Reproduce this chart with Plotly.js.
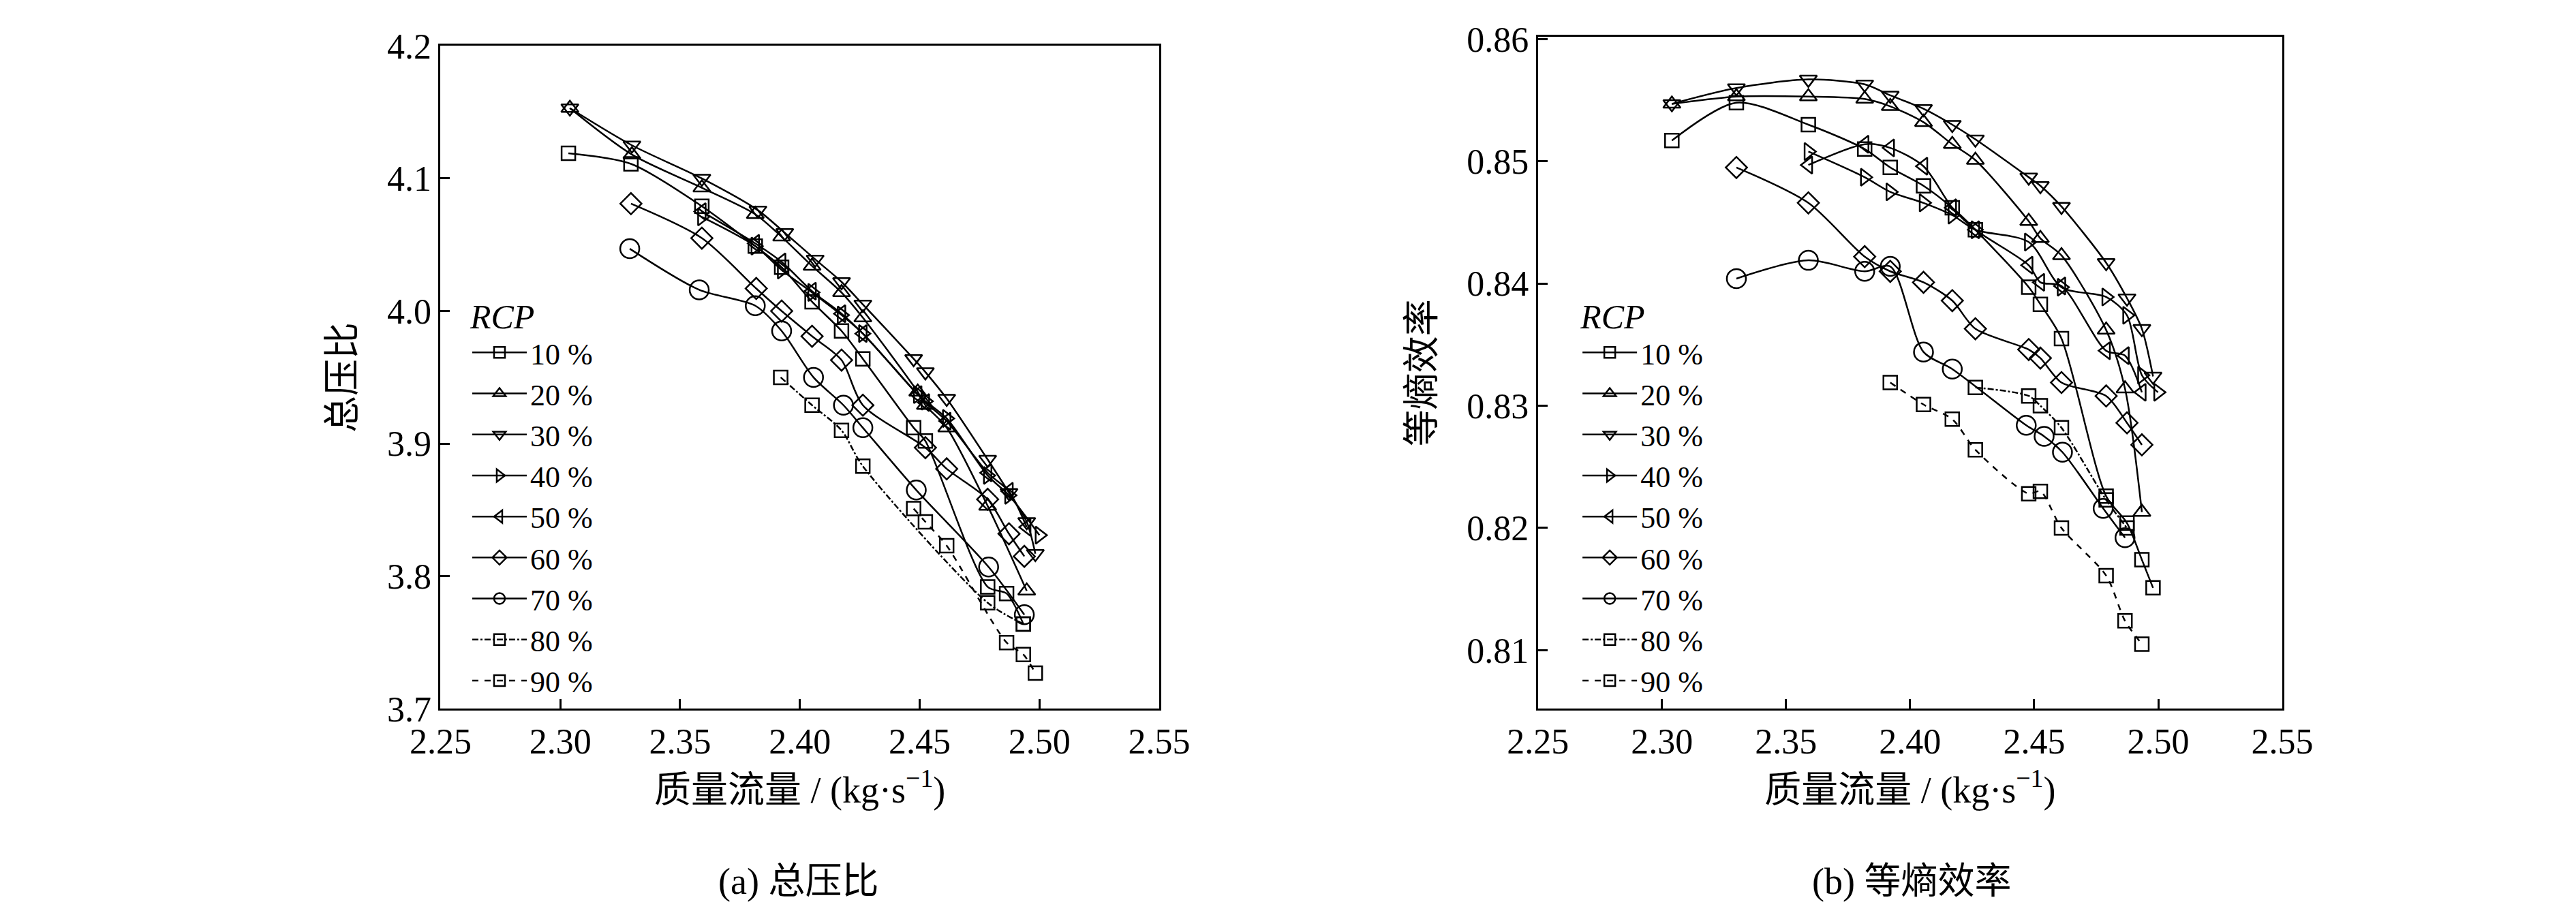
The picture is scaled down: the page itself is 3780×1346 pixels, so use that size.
<!DOCTYPE html>
<html>
<head>
<meta charset="utf-8">
<script src="https://cdn.plot.ly/plotly-3.0.1.min.js"></script>
<style>html,body{margin:0;padding:0;background:#fff}#chart{width:3780px;height:1346px}</style>
</head>
<body>
<div id="chart"></div>
<script>
// RCP levels
var rcpNames = ['10 %', '20 %', '30 %', '40 %', '50 %', '60 %', '70 %', '80 %', '90 %'];

// (a) total pressure ratio
var prX10 = [2.3034, 2.3295, 2.3591, 2.3814, 2.3924, 2.4051, 2.4174, 2.4263, 2.4475, 2.4524, 2.4784, 2.4863, 2.4933];
var prY10 = [4.119, 4.111, 4.079, 4.049, 4.033, 4.007, 3.985, 3.964, 3.912, 3.902, 3.792, 3.787, 3.764];
var prX20 = [2.3040, 2.3299, 2.3591, 2.3814, 2.3924, 2.4051, 2.4174, 2.4263, 2.4492, 2.4524, 2.4613, 2.4784, 2.4947];
var prY20 = [4.153, 4.118, 4.093, 4.073, 4.056, 4.034, 4.014, 3.995, 3.939, 3.929, 3.912, 3.853, 3.789];
var prX30 = [2.3040, 2.3299, 2.3591, 2.3825, 2.3937, 2.4064, 2.4174, 2.4263, 2.4475, 2.4524, 2.4613, 2.4784, 2.4873, 2.4947, 2.4983];
var prY30 = [4.153, 4.125, 4.100, 4.076, 4.059, 4.039, 4.022, 4.005, 3.964, 3.954, 3.934, 3.888, 3.863, 3.841, 3.817];
var prX40 = [2.3591, 2.3814, 2.3924, 2.4051, 2.4174, 2.4263, 2.4492, 2.4524, 2.4613, 2.4784, 2.4873, 2.5000];
var prY40 = [4.071, 4.049, 4.031, 4.014, 3.997, 3.983, 3.937, 3.932, 3.919, 3.876, 3.861, 3.831];
var prX50 = [2.3591, 2.3814, 2.3924, 2.4051, 2.4174, 2.4263, 2.4492, 2.4524, 2.4613, 2.4784, 2.4873, 2.4947];
var prY50 = [4.075, 4.051, 4.037, 4.015, 3.998, 3.983, 3.937, 3.931, 3.917, 3.878, 3.864, 3.837];
var prX60 = [2.3295, 2.3591, 2.3818, 2.3924, 2.4051, 2.4174, 2.4263, 2.4524, 2.4613, 2.4784, 2.4873, 2.4937];
var prY60 = [4.081, 4.055, 4.017, 4.000, 3.981, 3.963, 3.929, 3.897, 3.881, 3.858, 3.832, 3.815];
var prX70 = [2.3290, 2.3580, 2.3814, 2.3924, 2.4057, 2.4182, 2.4263, 2.4486, 2.4788, 2.4937];
var prY70 = [4.047, 4.016, 4.004, 3.985, 3.950, 3.929, 3.912, 3.865, 3.807, 3.771];
var prX80 = [2.3920, 2.4051, 2.4174, 2.4263, 2.4784, 2.4933];
var prY80 = [3.950, 3.929, 3.910, 3.883, 3.780, 3.764];
var prX90 = [2.4475, 2.4524, 2.4613, 2.4863, 2.4933, 2.4983];
var prY90 = [3.851, 3.841, 3.823, 3.750, 3.741, 3.727];

// (b) isentropic efficiency
var efX10 = [2.304, 2.330, 2.359, 2.3817, 2.392, 2.4054, 2.417, 2.4263, 2.4478, 2.4525, 2.461, 2.479, 2.4874, 2.4934, 2.4979];
var efY10 = [0.8517, 0.8548, 0.8530, 0.8510, 0.8495, 0.8480, 0.8462, 0.8444, 0.8397, 0.8383, 0.8355, 0.8226, 0.8204, 0.8174, 0.8151];
var efX20 = [2.304, 2.330, 2.359, 2.3817, 2.392, 2.4054, 2.417, 2.4263, 2.4478, 2.4525, 2.461, 2.479, 2.4866, 2.4934];
var efY20 = [0.8547, 0.8553, 0.8553, 0.8551, 0.8545, 0.8532, 0.8514, 0.8501, 0.8451, 0.8437, 0.8423, 0.8362, 0.8314, 0.8213];
var efX30 = [2.304, 2.330, 2.359, 2.3817, 2.392, 2.4054, 2.417, 2.4263, 2.4478, 2.4525, 2.461, 2.479, 2.4874, 2.4934, 2.4979];
var efY30 = [0.8547, 0.8560, 0.8567, 0.8563, 0.8554, 0.8543, 0.8530, 0.8518, 0.8487, 0.8480, 0.8463, 0.8417, 0.8388, 0.8363, 0.8324];
var efX40 = [2.359, 2.3817, 2.392, 2.4054, 2.417, 2.4263, 2.4478, 2.461, 2.479, 2.4874, 2.4934, 2.4999];
var efY40 = [0.8508, 0.8487, 0.8475, 0.8466, 0.8456, 0.8444, 0.8434, 0.8397, 0.8389, 0.8374, 0.8325, 0.8311];
var efX50 = [2.359, 2.3817, 2.392, 2.4054, 2.417, 2.4263, 2.4478, 2.4525, 2.461, 2.479, 2.4866, 2.4934];
var efY50 = [0.8497, 0.8514, 0.8511, 0.8496, 0.8462, 0.8444, 0.8415, 0.8401, 0.8398, 0.8345, 0.8341, 0.8311];
var efX60 = [2.330, 2.359, 2.3817, 2.392, 2.4054, 2.417, 2.4263, 2.4478, 2.4525, 2.461, 2.479, 2.4874, 2.4934];
var efY60 = [0.8495, 0.8466, 0.8422, 0.8410, 0.8401, 0.8386, 0.8363, 0.8346, 0.8339, 0.8319, 0.8308, 0.8286, 0.8268];
var efX70 = [2.330, 2.359, 2.3817, 2.392, 2.4054, 2.417, 2.4468, 2.4540, 2.4614, 2.4778, 2.4866];
var efY70 = [0.8404, 0.8419, 0.8410, 0.8414, 0.8344, 0.8330, 0.8284, 0.8275, 0.8262, 0.8216, 0.8192];
var efX80 = [2.4263, 2.4478, 2.4525, 2.461, 2.479, 2.4874];
var efY80 = [0.8315, 0.8308, 0.8300, 0.8282, 0.8223, 0.8200];
var efX90 = [2.392, 2.4054, 2.417, 2.4263, 2.4478, 2.4525, 2.461, 2.479, 2.4866, 2.4934];
var efY90 = [0.8319, 0.8301, 0.8289, 0.8264, 0.8228, 0.8230, 0.8200, 0.8161, 0.8124, 0.8105];

var symbols = ['square-open', 'triangle-up-open', 'triangle-down-open', 'triangle-right-open',
  'triangle-left-open', 'diamond-open', 'circle-open', 'square-open', 'square-open'];
var sizes = [20, 22, 22, 22, 22, 24, 28, 20, 20];
var dashes = ['solid', 'solid', 'solid', 'solid', 'solid', 'solid', 'solid', 'dashdot', 'dash'];

var prSets = [[prX10, prY10], [prX20, prY20], [prX30, prY30], [prX40, prY40], [prX50, prY50],
  [prX60, prY60], [prX70, prY70], [prX80, prY80], [prX90, prY90]];
var efSets = [[efX10, efY10], [efX20, efY20], [efX30, efY30], [efX40, efY40], [efX50, efY50],
  [efX60, efY60], [efX70, efY70], [efX80, efY80], [efX90, efY90]];

var traces = [];
function addTraces(sets, xa, ya, legend) {
  sets.forEach(function (s, i) {
    traces.push({
      type: 'scatter', mode: 'lines+markers', x: s[0], y: s[1],
      xaxis: xa, yaxis: ya, legend: legend, name: rcpNames[i],
      line: { color: '#000', width: 2.5, dash: dashes[i], shape: 'spline', smoothing: 0.8 },
      marker: { symbol: symbols[i], size: sizes[i], color: '#000', line: { width: 2.5, color: '#000' } }
    });
  });
}
addTraces(prSets, 'x', 'y', 'legend');
addTraces(efSets, 'x2', 'y2', 'legend2');

var tickFont = { family: '"Liberation Serif", "Times New Roman", serif', size: 52, color: '#000' };
var titleFont = { family: '"Liberation Serif", "Noto Sans CJK SC", serif', size: 54, color: '#000' };

function axis(extra) {
  var a = {
    showline: true, mirror: true, linecolor: '#000', linewidth: 3,
    ticks: 'inside', ticklen: 14, tickwidth: 3, tickcolor: '#000',
    showgrid: false, zeroline: false, tickfont: tickFont
  };
  for (var k in extra) a[k] = extra[k];
  return a;
}

var legendCommon = {
  bgcolor: 'rgba(0,0,0,0)', borderwidth: 0,
  font: { family: '"Liberation Serif", serif', size: 44, color: '#000' },
  title: { text: '<i>RCP</i>', font: { family: '"Liberation Serif", serif', size: 50, color: '#000' } },
  tracegroupgap: 0, itemwidth: 80, xanchor: 'left', yanchor: 'top'
};
var leg1 = Object.assign({}, legendCommon, { x: 0.182, y: 0.69 });
var leg2 = Object.assign({}, legendCommon, { x: 0.613, y: 0.69 });

var layout = {
  width: 3780, height: 1346,
  paper_bgcolor: '#fff', plot_bgcolor: '#fff',
  margin: { l: 0, r: 0, t: 0, b: 0 },
  showlegend: true,
  legend: leg1, legend2: leg2,
  xaxis: axis({ domain: [0.171, 0.450], range: [2.25, 2.55], dtick: 0.05, tickformat: '.2f', anchor: 'y',
    title: { text: '质量流量 / (kg·s<sup>−1</sup>)', font: titleFont, standoff: 25 } }),
  yaxis: axis({ domain: [0.227, 0.95], range: [3.7, 4.2], dtick: 0.1, tickformat: '.1f', anchor: 'x',
    title: { text: '总压比', font: titleFont, standoff: 30 } }),
  xaxis2: axis({ domain: [0.597, 0.886], range: [2.25, 2.55], dtick: 0.05, tickformat: '.2f', anchor: 'y2',
    title: { text: '质量流量 / (kg·s<sup>−1</sup>)', font: titleFont, standoff: 25 } }),
  yaxis2: axis({ domain: [0.227, 0.96], range: [0.8052, 0.8602], dtick: 0.01, tickformat: '.2f', anchor: 'x2',
    title: { text: '等熵效率', font: titleFont, standoff: 30 } }),
  annotations: [
    { text: '(a) 总压比', xref: 'paper', yref: 'paper', x: 0.31, y: 0.015, xanchor: 'center', yanchor: 'bottom',
      showarrow: false, font: titleFont },
    { text: '(b) 等熵效率', xref: 'paper', yref: 'paper', x: 0.742, y: 0.015, xanchor: 'center', yanchor: 'bottom',
      showarrow: false, font: titleFont }
  ]
};

Plotly.newPlot('chart', traces, layout, { staticPlot: true, displayModeBar: false });
</script>
</body>
</html>
